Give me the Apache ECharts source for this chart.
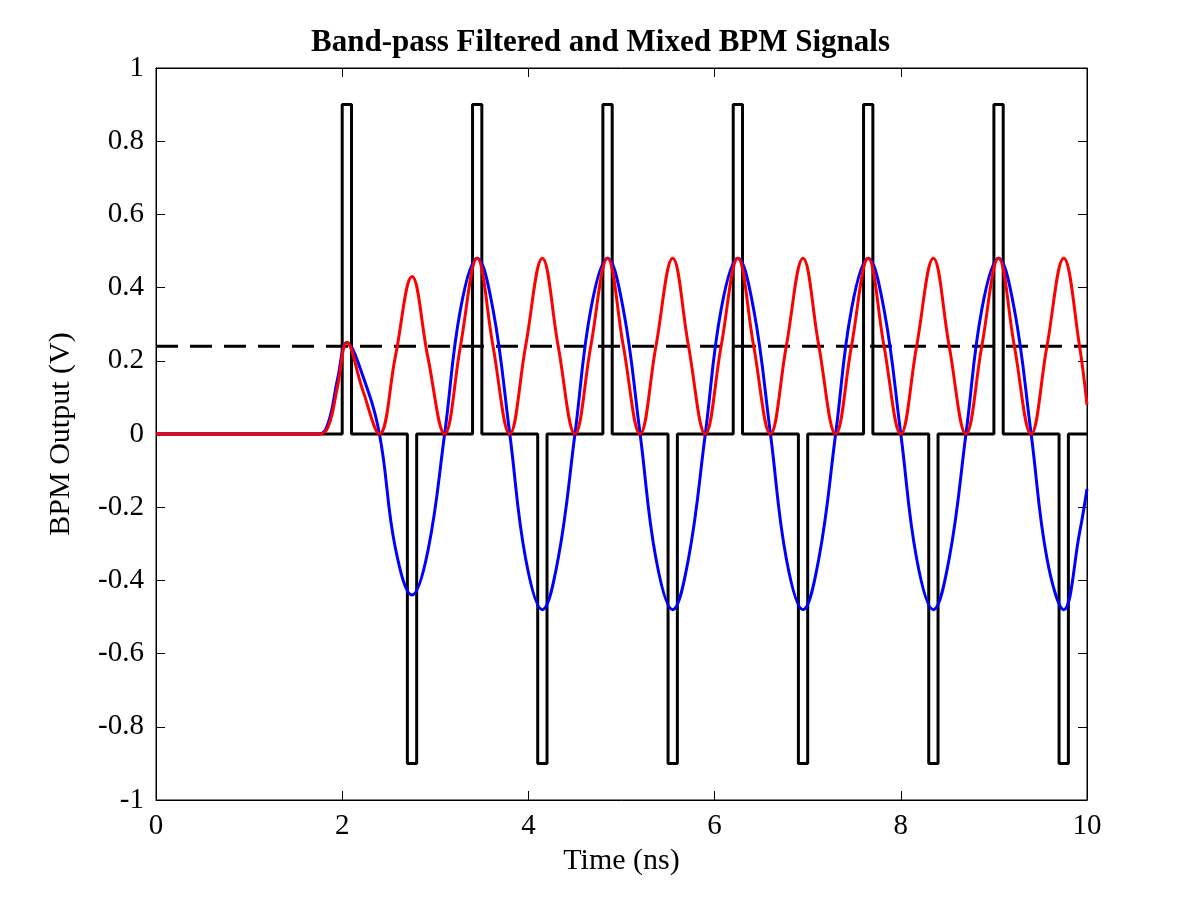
<!DOCTYPE html>
<html><head><meta charset="utf-8">
<script src="https://cdn.jsdelivr.net/npm/echarts@6/dist/echarts.min.js"></script>
<style>html,body{margin:0;background:#fff}#c{width:1201px;height:900px}</style>
</head><body><div id="c"></div>
<script>
const xTicks=[0,2,4,6,8,10];
const yTicks=[-1,-0.8,-0.6,-0.4,-0.2,0,0.2,0.4,0.6,0.8,1];
const posPulseStarts=[2.0,3.4,4.8,6.2,7.6,9.0];
const negPulseStarts=[2.7,4.1,5.5,6.9,8.3,9.7];
const pulseWidth=0.1, pulseHeight=0.9;
const dcLevel=0.24;
const blue=[[0,0],[1.75,0],[1.85,0.03],[1.95,0.15],[2.05,0.25],[2.22,0.16],[2.4,0],[2.57,-0.31],[2.75,-0.44],[2.92,-0.32],[3.1,0],[3.27,0.34],[3.45,0.48],[3.62,0.34],[3.8,0],[3.97,-0.34],[4.15,-0.48],[4.32,-0.34],[4.5,0],[4.67,0.34],[4.85,0.48],[5.02,0.34],[5.2,0],[5.37,-0.34],[5.55,-0.48],[5.72,-0.34],[5.9,0],[6.07,0.34],[6.25,0.48],[6.42,0.34],[6.6,0],[6.77,-0.34],[6.95,-0.48],[7.12,-0.34],[7.3,0],[7.47,0.34],[7.65,0.48],[7.82,0.34],[8.0,0],[8.17,-0.34],[8.35,-0.48],[8.52,-0.34],[8.7,0],[8.87,0.34],[9.05,0.48],[9.22,0.34],[9.4,0],[9.57,-0.34],[9.75,-0.48],[9.92,-0.27],[10,-0.15]];
const red=[[0,0],[1.75,0],[1.85,0.02],[1.95,0.13],[2.05,0.25],[2.22,0.12],[2.4,0],[2.57,0.21],[2.75,0.43],[2.92,0.21],[3.1,0],[3.27,0.24],[3.45,0.48],[3.62,0.24],[3.8,0],[3.97,0.24],[4.15,0.48],[4.32,0.24],[4.5,0],[4.67,0.24],[4.85,0.48],[5.02,0.24],[5.2,0],[5.37,0.24],[5.55,0.48],[5.72,0.24],[5.9,0],[6.07,0.24],[6.25,0.48],[6.42,0.24],[6.6,0],[6.77,0.24],[6.95,0.48],[7.12,0.24],[7.3,0],[7.47,0.24],[7.65,0.48],[7.82,0.24],[8.0,0],[8.17,0.24],[8.35,0.48],[8.52,0.24],[8.7,0],[8.87,0.24],[9.05,0.48],[9.22,0.24],[9.4,0],[9.57,0.24],[9.75,0.48],[9.92,0.24],[10,0.08]];
const black=[[0,0]];
const pulses=posPulseStarts.map(s=>[s,pulseHeight]).concat(negPulseStarts.map(s=>[s,-pulseHeight])).sort((a,b)=>a[0]-b[0]);
pulses.forEach(([s,h])=>{black.push([s,0],[s,h],[s+pulseWidth,h],[s+pulseWidth,0]);});
black.push([10,0]);
const font='Liberation Serif';
const tick={inside:true,length:9,lineStyle:{color:'#000'}};
const line={onZero:false,lineStyle:{color:'#000'}};
const baseX={type:'value',min:0,max:10,interval:2,axisLine:line,axisTick:tick,splitLine:{show:false}};
const baseY={type:'value',min:-1,max:1,interval:0.2,axisLine:line,axisTick:tick,splitLine:{show:false}};
const ch=echarts.init(document.getElementById('c'));
ch.setOption({
 animation:false,
 title:{text:'Band-pass Filtered and Mixed BPM Signals',left:'center',top:22,textStyle:{fontFamily:font,fontWeight:'bold',fontSize:31,color:'#000'}},
 grid:{left:156,right:114,top:68,bottom:100,show:true,borderColor:'#000',borderWidth:1},
 xAxis:[Object.assign({},baseX,{name:'Time (ns)',nameLocation:'middle',nameGap:45,
  nameTextStyle:{fontFamily:font,fontSize:30,color:'#000'},
  axisLabel:{fontFamily:font,fontSize:29,color:'#000',margin:12}}),
  Object.assign({},baseX,{position:'top',axisLabel:{show:false}})],
 yAxis:[Object.assign({},baseY,{name:'BPM Output (V)',nameLocation:'middle',nameGap:80,
  nameTextStyle:{fontFamily:font,fontSize:30,color:'#000'},
  axisLabel:{fontFamily:font,fontSize:29,color:'#000',margin:12,formatter:v=>String(Math.round(v*10)/10)}}),
  Object.assign({},baseY,{position:'right',axisLabel:{show:false}})],
 series:[
  {type:'line',data:black,symbol:'none',lineStyle:{color:'#000',width:3}},
  {type:'line',data:[[0,dcLevel],[10,dcLevel]],symbol:'none',lineStyle:{color:'#000',width:3,type:[22,12]}},
  {type:'line',data:blue,symbol:'none',smooth:0.4,lineStyle:{color:'#0000ff',width:3}},
  {type:'line',data:red,symbol:'none',smooth:0.4,lineStyle:{color:'#ff0000',width:3}}
 ]
});
</script></body></html>
